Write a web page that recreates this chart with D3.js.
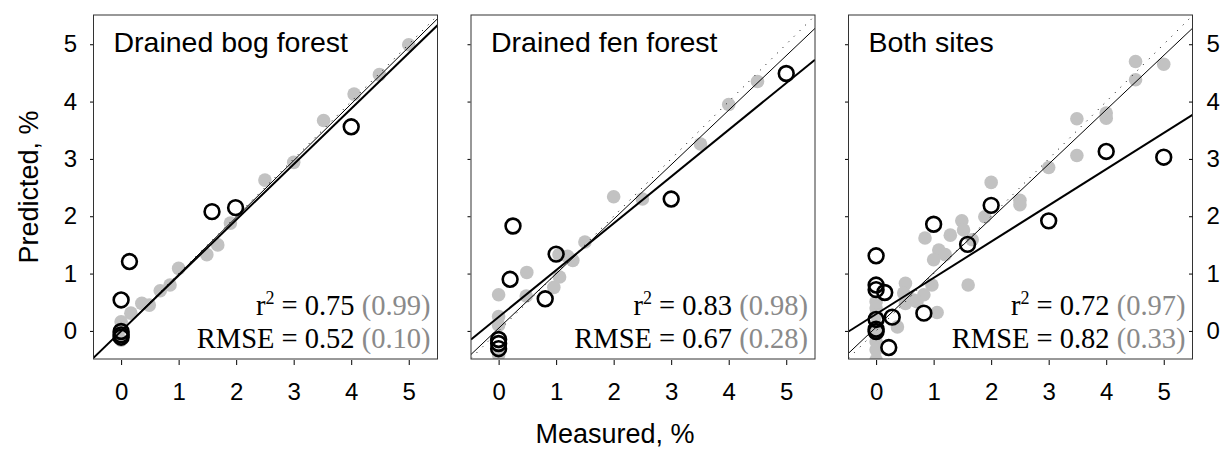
<!DOCTYPE html>
<html>
<head>
<meta charset="utf-8">
<script src="https://cdn.jsdelivr.net/npm/d3@7"></script>
<style>
  html, body { margin: 0; padding: 0; background: #fff; }
  svg { display: block; }
</style>
</head>
<body>
<svg id="chart" width="1230" height="458"></svg>
<script>
// ---------------- data ----------------
const xTicks = [0, 1, 2, 3, 4, 5];
const yTicks = [0, 1, 2, 3, 4, 5];
const panelTitles = ["Drained bog forest", "Drained fen forest", "Both sites"];
const r2Values = ["0.75", "0.83", "0.72"];
const r2Calib = ["0.99", "0.98", "0.97"];
const rmseValues = ["0.52", "0.67", "0.82"];
const rmseCalib = ["0.10", "0.28", "0.33"];
const xAxisTitle = "Measured, %";
const yAxisTitle = "Predicted, %";

// Drained bog forest
const bogGrayX = [5.0, 4.49, 4.05, 3.52, 3.0, 2.5, 1.9, 1.68, 1.49, 1.0, 0.85, 0.68, 0.49, 0.36, 0.17, 0.0, 0.0, 0.0];
const bogGrayY = [4.99, 4.47, 4.13, 3.67, 2.94, 2.63, 1.88, 1.5, 1.33, 1.09, 0.8, 0.7, 0.45, 0.48, 0.31, 0.16, 0.05, -0.16];
const bogOpenX = [4.0, 1.99, 1.58, 0.145, 0.0, 0.0, 0.0, 0.0];
const bogOpenY = [3.56, 2.15, 2.08, 1.21, 0.54, -0.01, -0.07, -0.11];

// Drained fen forest
const fenGrayX = [4.5, 4.0, 3.51, 2.5, 2.0, 1.5, 1.29, 1.2, 1.05, 1.06, 0.96, 0.49, 0.48, 0.0, 0.0, 0.0, 0.0];
const fenGrayY = [4.35, 3.95, 3.26, 2.3, 2.34, 1.55, 1.23, 1.3, 1.33, 0.94, 0.76, 1.02, 0.61, 0.63, 0.25, 0.1, -0.42];
const fenOpenX = [5.0, 3.0, 1.0, 0.25, 0.2, 0.81, 0.0, 0.0, 0.0];
const fenOpenY = [4.49, 2.3, 1.34, 1.83, 0.9, 0.56, -0.15, -0.22, -0.31];

// Both sites
const bothGrayX = [4.51, 5.0, 4.51, 4.0, 4.0, 3.49, 3.49, 3.0, 2.5, 2.5, 2.0, 1.89, 1.49, 1.52, 1.67, 1.29, 1.09, 1.2, 1.0, 0.85,
                   1.6, 0.97, 0.51, 0.48, 0.65, 0.83, 0.51, 0.71, 1.06, 0.37,
                   0.0, 0.0, 0.0, 0.0, 0.0, 0.0, 0.0, 0.0];
const bothGrayY = [4.70, 4.65, 4.38, 3.80, 3.71, 3.70, 3.06, 2.85, 2.28, 2.2, 2.59, 1.99, 1.92, 1.76, 1.59, 1.67, 1.41, 1.33, 1.24, 1.62,
                   0.8, 0.8, 0.83, 0.66, 0.54, 0.63, 0.48, 0.51, 0.32, 0.07,
                   0.51, 0.4, 0.28, 0.1, -0.04, -0.19, -0.33, -0.51];
const bothOpenX = [5.0, 4.0, 3.0, 2.0, 1.59, 1.0, 0.83, 0.0, 0.0, 0.0, 0.15, 0.0, 0.28, 0.0, 0.0, 0.22];
const bothOpenY = [3.03, 3.13, 1.92, 2.19, 1.51, 1.86, 0.31, 1.31, 0.8, 0.72, 0.67, 0.2, 0.24, 0.03, -0.01, -0.29];

// fitted lines: [intercept, slope]
const calibFit = [[0.0, 0.99], [0.046, 0.951], [0.065, 0.948]];   // thin line (grey points)
const validFit = [[-0.004, 0.97], [0.243, 0.816], [0.293, 0.632]]; // thick line (open circles)

const panelsData = [
  { gx: bogGrayX, gy: bogGrayY, ox: bogOpenX, oy: bogOpenY },
  { gx: fenGrayX, gy: fenGrayY, ox: fenOpenX, oy: fenOpenY },
  { gx: bothGrayX, gy: bothGrayY, ox: bothOpenX, oy: bothOpenY }
];

// ---------------- layout ----------------
const svg = d3.select("#chart");
const panelLefts = [93.5, 471, 848.5];
const panelW = 344, plotTop = 15, plotBottom = 359;
const xDomain = [-0.48, 5.5], yDomain = [-0.49, 5.51];
const sans = "'Liberation Sans', Arial, sans-serif";
const serif = "'Liberation Serif', 'Times New Roman', serif";
const grayPt = "#c2c2c2", grayTxt = "#8a8a8a";

panelsData.forEach((pd, i) => {
  const left = panelLefts[i];
  const x = d3.scaleLinear().domain(xDomain).range([left, left + panelW]);
  const y = d3.scaleLinear().domain(yDomain).range([plotBottom, plotTop]);
  const g = svg.append("g");

  const clipId = "clip" + i;
  svg.append("defs").append("clipPath").attr("id", clipId)
    .append("rect").attr("x", left).attr("y", plotTop).attr("width", panelW).attr("height", plotBottom - plotTop);

  const plot = g.append("g").attr("clip-path", `url(#${clipId})`);

  // grey points
  plot.selectAll("circle.g").data(pd.gx.map((v, k) => [v, pd.gy[k]])).enter()
    .append("circle").attr("cx", d => x(d[0])).attr("cy", d => y(d[1])).attr("r", 6.8)
    .attr("fill", grayPt);

  // 1:1 dotted line
  plot.append("line")
    .attr("x1", x(xDomain[0])).attr("y1", y(xDomain[0]))
    .attr("x2", x(xDomain[1])).attr("y2", y(xDomain[1]))
    .attr("stroke", "#000").attr("stroke-width", 1).attr("stroke-dasharray", "1,7");

  // thin line (calibration)
  const [ca, cb] = calibFit[i];
  plot.append("line")
    .attr("x1", x(xDomain[0])).attr("y1", y(ca + cb * xDomain[0]))
    .attr("x2", x(xDomain[1])).attr("y2", y(ca + cb * xDomain[1]))
    .attr("stroke", "#000").attr("stroke-width", 1);

  // thick line (validation)
  const [va, vb] = validFit[i];
  plot.append("line")
    .attr("x1", x(xDomain[0])).attr("y1", y(va + vb * xDomain[0]))
    .attr("x2", x(xDomain[1])).attr("y2", y(va + vb * xDomain[1]))
    .attr("stroke", "#000").attr("stroke-width", 2);

  // open circles
  plot.selectAll("circle.o").data(pd.ox.map((v, k) => [v, pd.oy[k]])).enter()
    .append("circle").attr("cx", d => x(d[0])).attr("cy", d => y(d[1])).attr("r", 7.4)
    .attr("fill", "none").attr("stroke", "#000").attr("stroke-width", 2.6);

  // box
  g.append("rect").attr("x", left).attr("y", plotTop).attr("width", panelW).attr("height", plotBottom - plotTop)
    .attr("fill", "none").attr("stroke", "#333").attr("stroke-width", 1);

  // x axis
  const xa = g.append("g").attr("transform", `translate(0,${plotBottom + 1})`)
    .call(d3.axisBottom(x).tickValues(xTicks).tickSize(5).tickPadding(18).tickFormat(d3.format("d")));
  xa.select(".domain").remove();
  xa.selectAll("text").attr("font-family", sans).attr("font-size", 24).attr("fill", "#000");
  xa.selectAll("line").attr("stroke", "#000");

  // y axis left ticks
  const ya = g.append("g").attr("transform", `translate(${left - 0.5},0)`)
    .call(d3.axisLeft(y).tickValues(yTicks).tickSize(3).tickPadding(13).tickFormat(d3.format("d")));
  ya.select(".domain").remove();
  ya.selectAll("line").attr("stroke", "#000");
  if (i === 0) {
    ya.selectAll("text").attr("font-family", sans).attr("font-size", 24).attr("fill", "#000");
  } else {
    ya.selectAll("text").remove();
  }
  if (i === 2) {
    const yr = g.append("g").attr("transform", `translate(${left + panelW},0)`)
      .call(d3.axisRight(y).tickValues(yTicks).tickSize(0).tickPadding(14).tickFormat(d3.format("d")));
    yr.select(".domain").remove();
    yr.selectAll("text").attr("font-family", sans).attr("font-size", 24).attr("fill", "#000");
    yr.selectAll(".tick").append("line").attr("x1", -3.5).attr("x2", 0).attr("stroke", "#000");
  }

  // title
  g.append("text").attr("x", left + 20).attr("y", 52)
    .attr("font-family", sans).attr("font-size", 28.5).attr("fill", "#000")
    .text(panelTitles[i]);

  // stats
  const tx = x(5.38);
  const t1 = g.append("text").attr("x", tx).attr("y", y(0.28)).attr("text-anchor", "end")
    .attr("font-family", serif).attr("font-size", 28.5).attr("fill", "#000");
  t1.append("tspan").text("r");
  t1.append("tspan").attr("dy", -11).attr("font-size", 18).text("2");
  t1.append("tspan").attr("dy", 11).text(" = " + r2Values[i] + " ");
  t1.append("tspan").attr("fill", grayTxt).text("(" + r2Calib[i] + ")");

  const t2 = g.append("text").attr("x", tx).attr("y", y(-0.3)).attr("text-anchor", "end")
    .attr("font-family", serif).attr("font-size", 28.5).attr("fill", "#000");
  t2.append("tspan").text("RMSE = " + rmseValues[i] + " ");
  t2.append("tspan").attr("fill", grayTxt).text("(" + rmseCalib[i] + ")");
});

// axis titles
svg.append("text").attr("x", 615).attr("y", 443).attr("text-anchor", "middle")
  .attr("font-family", sans).attr("font-size", 27).attr("fill", "#000").text(xAxisTitle);
svg.append("text").attr("transform", "translate(38,187) rotate(-90)").attr("text-anchor", "middle")
  .attr("font-family", sans).attr("font-size", 27).attr("fill", "#000").text(yAxisTitle);
</script>
</body>
</html>
